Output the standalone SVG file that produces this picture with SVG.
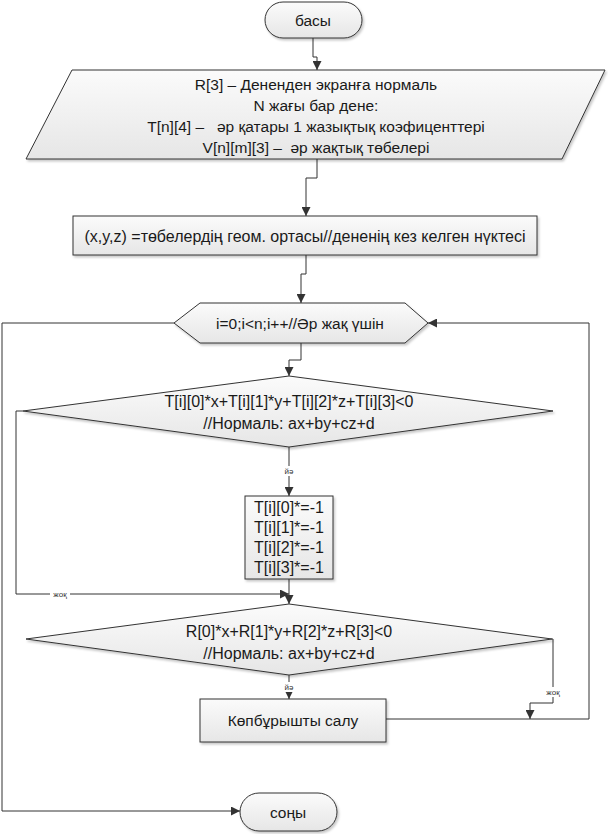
<svg xmlns="http://www.w3.org/2000/svg" width="608" height="834" viewBox="0 0 608 834">
<defs>
<linearGradient id="g" x1="0" y1="0" x2="0" y2="1">
<stop offset="0" stop-color="#fbfbfb"/>
<stop offset="1" stop-color="#e6e6e6"/>
</linearGradient>
<filter id="sh" x="-10%" y="-10%" width="125%" height="130%">
<feDropShadow dx="1.5" dy="2" stdDeviation="1.2" flood-color="#000" flood-opacity="0.22"/>
</filter>
<marker id="ar" viewBox="0 0 10 10" refX="10" refY="5" markerWidth="9" markerHeight="9" markerUnits="userSpaceOnUse" orient="auto">
<path d="M0,0 L10,5 L0,10 z" fill="#333"/>
</marker>
</defs>
<style>
.s{fill:url(#g);stroke:#333;stroke-width:1;filter:url(#sh)}
.t{font-family:"Liberation Sans",Arial,sans-serif;font-size:15.5px;fill:#1a1a1a;text-anchor:middle;dominant-baseline:central}
.b{font-size:16px}
.l{font-family:"Liberation Sans",Arial,sans-serif;font-size:8px;fill:#333;text-anchor:middle;dominant-baseline:central}
.c{fill:none;stroke:#333;stroke-width:1}
.lb{fill:#fff}
</style>
<rect width="608" height="834" fill="#fff"/>

<g id="connectors">
<path class="c" d="M313,38 V57 H317 V70" marker-end="url(#ar)"/>
<path class="c" d="M317,159 V178 H306 V216" marker-end="url(#ar)"/>
<path class="c" d="M306,255 V274 H301 V303" marker-end="url(#ar)"/>
<path class="c" d="M301,343 V360 H289 V376" marker-end="url(#ar)"/>
<path class="c" d="M289,447 V496" marker-end="url(#ar)"/>
<path class="c" d="M289,579 V604" marker-end="url(#ar)"/>
<path class="c" d="M23,411 H16 V594 H289" marker-end="url(#ar)"/>
<path class="c" d="M289,675 V699" marker-end="url(#ar)"/>
<path class="c" d="M552,639 H553 V703 H530 V719" marker-end="url(#ar)"/>
<path class="c" d="M386,719 H589 V323 H428" marker-end="url(#ar)"/>
<path class="c" d="M174,323 H2 V811 H240" marker-end="url(#ar)"/>
<rect class="lb" x="281" y="466" width="16" height="10"/>
<text class="l" x="289" y="471">йә</text>
<rect class="lb" x="281" y="682" width="16" height="10"/>
<text class="l" x="289" y="687">йә</text>
<rect class="lb" x="50" y="589" width="20" height="10"/>
<text class="l" x="60" y="594">жоқ</text>
<rect class="lb" x="543" y="687" width="20" height="10"/>
<text class="l" x="553" y="692">жоқ</text>
</g>

<g id="start">
<rect class="s" x="265" y="2" width="97" height="36" rx="18"/>
<text class="t" x="313" y="20">басы</text>
</g>

<g id="input">
<polygon class="s" points="72,70 605,70 562,159 26,159"/>
<text class="t" x="316" y="84">R[3] – Дененден экранға нормаль</text>
<text class="t" x="316" y="105">N жағы бар дене:</text>
<text class="t" x="316" y="126" xml:space="preserve">T[n][4] –   әр қатары 1 жазықтық коэфиценттері</text>
<text class="t" x="316" y="147" xml:space="preserve">V[n][m][3] –  әр жақтық төбелері</text>
</g>

<g id="center">
<rect class="s" x="73" y="216" width="464" height="39"/>
<text class="t b" x="305" y="236">(x,y,z) =төбелердің геом. ортасы//дененің кез келген нүктесі</text>
</g>

<g id="loop">
<polygon class="s" points="174,323 200,303 405,303 428,323 405,343 200,343"/>
<text class="t" x="300" y="323">i=0;i&lt;n;i++//Әр жақ үшін</text>
</g>

<g id="cond1">
<polygon class="s" points="289,376 553,411 289,447 23,411"/>
<text class="t b" x="289" y="401">T[i][0]*x+T[i][1]*y+T[i][2]*z+T[i][3]&lt;0</text>
<text class="t b" x="289" y="423">//Нормаль: ax+by+cz+d</text>
</g>

<g id="flip">
<rect class="s" x="245" y="496" width="88" height="83"/>
<text class="t b" x="289" y="507">T[i][0]*=-1</text>
<text class="t b" x="289" y="527">T[i][1]*=-1</text>
<text class="t b" x="289" y="547">T[i][2]*=-1</text>
<text class="t b" x="289" y="567">T[i][3]*=-1</text>
</g>

<g id="cond2">
<polygon class="s" points="289,604 552,639 289,675 26,639"/>
<text class="t b" x="289" y="631">R[0]*x+R[1]*y+R[2]*z+R[3]&lt;0</text>
<text class="t b" x="289" y="653">//Нормаль: ax+by+cz+d</text>
</g>

<g id="draw">
<rect class="s" x="200" y="699" width="186" height="43"/>
<text class="t" x="293" y="720">Көпбұрышты салу</text>
</g>

<g id="end">
<rect class="s" x="240" y="793" width="97" height="38" rx="19"/>
<text class="t" x="288" y="812">соңы</text>
</g>
</svg>
